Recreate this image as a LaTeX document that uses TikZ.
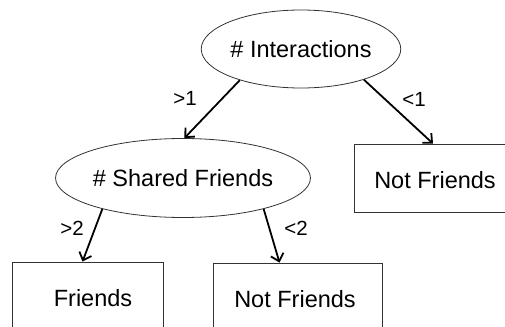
\documentclass[tikz,border=0pt]{standalone}
\usepackage{fontspec}
\setmainfont{Liberation Sans}
\usetikzlibrary{shapes.geometric,arrows.meta}
\begin{document}
\begin{tikzpicture}[x=1pt,y=-1pt,
  ell/.style={draw=black!80,line width=0.8pt,ellipse,inner sep=0pt,font=\fontsize{23.5}{26}\selectfont},
  box/.style={draw=black!80,line width=0.8pt,rectangle,inner sep=0pt},
  txt/.style={font=\fontsize{23.5}{26}\selectfont,inner sep=0pt},
  lab/.style={font=\fontsize{20.5}{22}\selectfont,inner sep=0pt},
  arr/.style={line width=1.8pt,-{Straight Barb[length=7pt,width=13pt,line width=1.8pt]}}]
\useasboundingbox (0,0) rectangle (505,326);
\clip (0,0) rectangle (505,326);
\node[ell,minimum width=165pt,minimum height=78pt] (e1) at (301,49) {\# Interactions};
\node[ell,minimum width=208pt,minimum height=79pt] (e2) at (183,178) {\# Shared Friends};
\node[box,minimum width=162pt,minimum height=68pt] (r1) at (435,178) {};
\node[txt] (r1t) at (435,180) {Not Friends};
\node[box,minimum width=151pt,minimum height=90pt] (f) at (87.5,307) {};
\node[txt] (ft) at (93,298) {Friends};
\node[box,minimum width=169pt,minimum height=90pt] (m) at (297.5,308) {};
\node[txt] (mt) at (295,299) {Not Friends};
\draw[arr] (e1.207) -- (e2.88);
\draw[arr] (e1.334) -- ([xshift=-2pt]r1.north);
\draw[arr] (e2.201) -- ([xshift=-5pt]f.north);
\draw[arr] (e2.339) -- ([xshift=-18pt]m.north);
\node[lab] (l1) at (185,98) {>1};
\node[lab] (l2) at (414,99) {<1};
\node[lab] (l3) at (72,228) {>2};
\node[lab] (l4) at (296,228) {<2};
\end{tikzpicture}
\end{document}
